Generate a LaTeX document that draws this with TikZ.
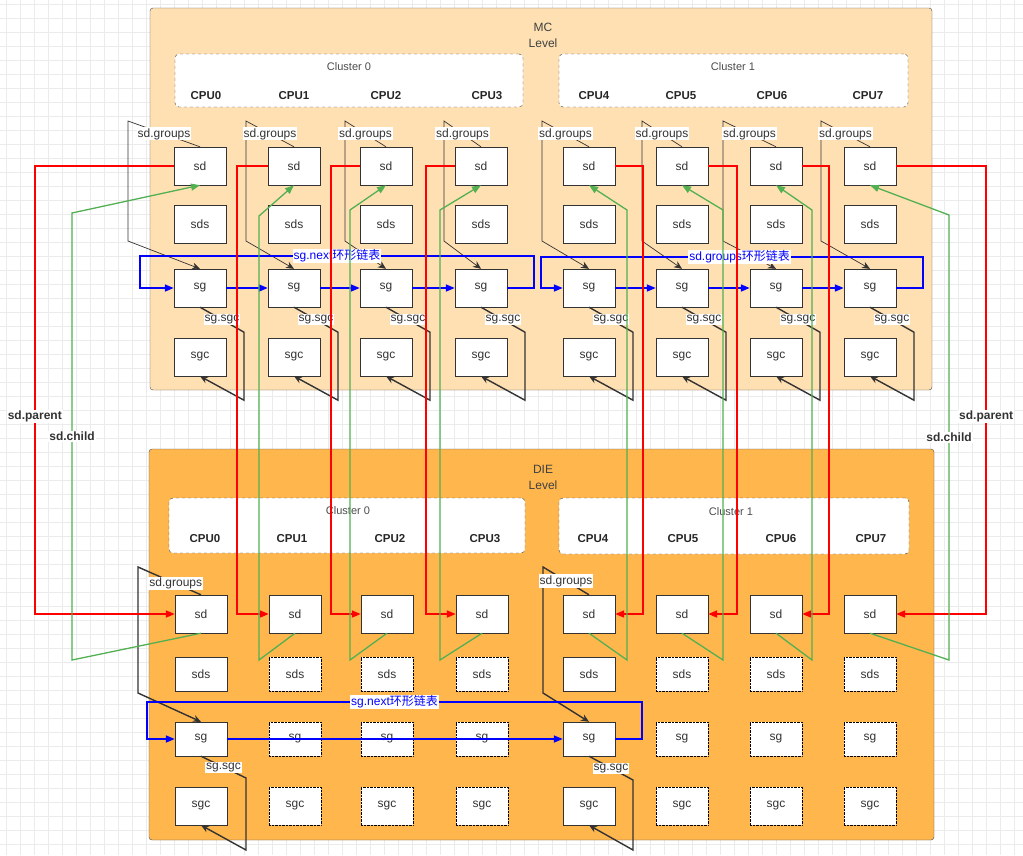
\documentclass[tikz,border=0pt]{standalone}
\usepackage{fontspec}
\setmainfont{Liberation Sans}
\newfontfamily\cjk{Noto Sans CJK SC}
\usetikzlibrary{arrows.meta,positioning,calc}

\definecolor{mcfill}{RGB}{255,224,178}
\definecolor{diefill}{RGB}{255,182,77}
\definecolor{linkgray}{RGB}{51,51,51}
\definecolor{parentred}{RGB}{255,0,0}
\definecolor{childgreen}{RGB}{82,176,82}
\definecolor{ringblue}{RGB}{0,0,255}

\begin{document}
\begin{tikzpicture}[x=1pt, y=-1pt, font=\fontsize{12}{14}\selectfont]
    \tikzstyle{cell} = [rectangle, draw=linkgray, fill=white, minimum width=52pt, minimum height=38pt, inner sep=0pt, text=linkgray]
    \tikzstyle{ghost} = [cell, draw=black, densely dotted]
    \tikzstyle{levelbox} = [rectangle, draw=black!70, rounded corners=3pt]
    \tikzstyle{clusterbox} = [rectangle, draw=black!75, dashed, fill=white, rounded corners=4pt]
    \tikzstyle{levelname} = [align=center, text=black!75, font=\fontsize{12}{16}\selectfont]
    \tikzstyle{clustername} = [text=black!70, font=\fontsize{11}{13}\selectfont]
    \tikzstyle{cpu} = [font=\fontsize{11.5}{13}\selectfont\bfseries, text=black!85]
    \tikzstyle{tag} = [fill=white, inner sep=1pt, text=linkgray]
    \tikzstyle{boldtag} = [tag, font=\fontsize{12}{14}\selectfont\bfseries]
    \tikzstyle{grp} = [draw=linkgray, line width=0.7pt, -{Stealth[length=8pt,width=7pt]}]
    \tikzstyle{grpthick} = [grp, line width=1.4pt]
    \tikzstyle{ring} = [draw=ringblue, line width=1.6pt, -{Triangle[length=9pt,width=7pt]}]
    \tikzstyle{parentline} = [draw=parentred, line width=1.6pt, -{Triangle[length=9pt,width=7pt]}]
    \tikzstyle{childline} = [draw=childgreen, line width=1.3pt, -{Triangle[length=9pt,width=7pt]}]

    \useasboundingbox (0,0) rectangle (1023,855);

    % Grid
    \foreach \gx in {6,20,...,1020} \draw[black!8] (\gx,0) -- (\gx,855);
    \foreach \gy in {4,18,...,850} \draw[black!8] (0,\gy) -- (1023,\gy);

    % MC level
    \node[levelbox, fill=mcfill, minimum width=782pt, minimum height=382pt] (mc) at (541,199) {};
    \node[levelname] (mcname) at (543,35) {MC\\Level};
    \node[clusterbox, minimum width=348pt, minimum height=53pt] (mcc0) at (349,80.5) {};
    \node[clusterbox, minimum width=349pt, minimum height=53pt] (mcc1) at (733.5,80.5) {};
    \node[clustername] (mcc0name) at (349,67) {Cluster 0};
    \node[clustername] (mcc1name) at (733,67) {Cluster 1};
    \foreach \n/\cx in {0/206,1/294,2/386,3/487,4/594,5/681,6/772,7/868}
        \node[cpu] (mccpu\n) at (\cx,96) {CPU\n};

    % DIE level
    \node[levelbox, fill=diefill, minimum width=785pt, minimum height=391pt] (die) at (541.5,644.5) {};
    \node[levelname] (diename) at (543,477) {DIE\\Level};
    \node[clusterbox, minimum width=356pt, minimum height=55pt] (diec0) at (347,525.5) {};
    \node[clusterbox, minimum width=350pt, minimum height=56pt] (diec1) at (734,526) {};
    \node[clustername] (diec0name) at (348,511) {Cluster 0};
    \node[clustername] (diec1name) at (731,512) {Cluster 1};
    \foreach \n/\cx in {0/205,1/292,2/390,3/485,4/593,5/683,6/781,7/871}
        \node[cpu] (diecpu\n) at (\cx,539) {CPU\n};

    % MC cells
    \foreach \i/\cx in {0/200,1/294,2/386,3/481,4/589,5/682,6/776,7/870} {
        \node[cell] (mcsd\i) at (\cx,166) {sd};
        \node[cell] (mcsds\i) at (\cx,224) {sds};
        \node[cell] (mcsg\i) at (\cx,288) {sg};
        \node[cell] (mcsgc\i) at (\cx,357) {sgc};
    }

    % DIE cells
    \foreach \i/\cx/\look in {0/201/cell,1/295/ghost,2/387/ghost,3/482/ghost,4/589/cell,5/682/ghost,6/776/ghost,7/870/ghost} {
        \node[cell] (diesd\i) at (\cx,614) {sd};
        \node[\look, minimum height=34pt] (diesds\i) at (\cx,674) {sds};
        \node[\look, minimum height=34pt] (diesg\i) at (\cx,739) {sg};
        \node[\look] (diesgc\i) at (\cx,806) {sgc};
    }

    % MC: sd.groups and sg.sgc
    \foreach \i/\lx in {0/128,1/246,2/345,3/444,4/542,5/642,6/723,7/821}
        \draw[grp] (mcsd\i.north) -- node[tag] {sd.groups} (\lx,121) -- (\lx,241) -- (mcsg\i.north);
    \foreach \i in {0,...,7}
        \draw[grpthick] (mcsg\i.south) -- node[tag] {sg.sgc} ++(44,25) -- ++(0,68) -- (mcsgc\i.south);

    % DIE: sd.groups and sg.sgc
    \draw[grpthick] (diesd0.north) -- node[tag, pos=0.4] {sd.groups} (138,567) -- (138,693) -- (diesg0.north);
    \draw[grpthick] (diesd4.north) -- node[tag] {sd.groups} (543,567) -- (543,693) -- (diesg4.north);
    \draw[grpthick] (diesg0.south) -- node[tag] {sg.sgc} (246,778) -- (246,850) -- (diesgc0.south);
    \draw[grpthick] (diesg4.south) -- node[tag] {sg.sgc} (633,780) -- (633,850) -- (diesgc4.south);

    % Rings
    \draw[ring] (mcsg3.east) -- (534,288) -- (534,256) -- node[tag, text=ringblue] {sg.next{\cjk 环形链表}} (140,256) -- (140,288) -- (mcsg0.west);
    \draw[ring] (mcsg7.east) -- (923,288) -- (923,257) -- node[tag, text=ringblue, pos=0.48] {sd.groups{\cjk 环形链表}} (541,257) -- (541,288) -- (mcsg4.west);
    \foreach \a/\b in {0/1,1/2,2/3,4/5,5/6,6/7}
        \draw[ring] (mcsg\a) -- (mcsg\b);
    \draw[ring] (diesg4.east) -- (642,739) -- (642,702) -- node[tag, text=ringblue] {sg.next{\cjk 环形链表}} (147,702) -- (147,739) -- (diesg0.west);
    \draw[ring] (diesg0) -- (diesg4);

    % sd.parent
    \draw[parentline] (mcsd0.west) -- ++(-139,0) |- node[boldtag, pos=0.28] {sd.parent} (diesd0.west);
    \foreach \i/\side/\dx in {1/west/-31,2/west/-29,3/west/-29,4/east/28,5/east/29,6/east/27}
        \draw[parentline] (mcsd\i.\side) -- ++(\dx,0) |- (diesd\i.\side);
    \draw[parentline] (mcsd7.east) -- ++(90,0) |- node[boldtag, pos=0.28] {sd.parent} (diesd7.east);

    % sd.child
    \draw[childline] (diesd0.south) -- (72,660) -- node[boldtag] {sd.child} (72,213) -- (mcsd0.south);
    \foreach \i/\vx/\ty in {1/259/216,2/350/210,3/440/210,4/627/210,5/723/210,6/812/210}
        \draw[childline] (diesd\i.south) -- (\vx,660) -- (\vx,\ty) -- (mcsd\i.south);
    \draw[childline] (diesd7.south) -- (949,660) -- node[boldtag] {sd.child} (949,215) -- (mcsd7.south);
\end{tikzpicture}
\end{document}
